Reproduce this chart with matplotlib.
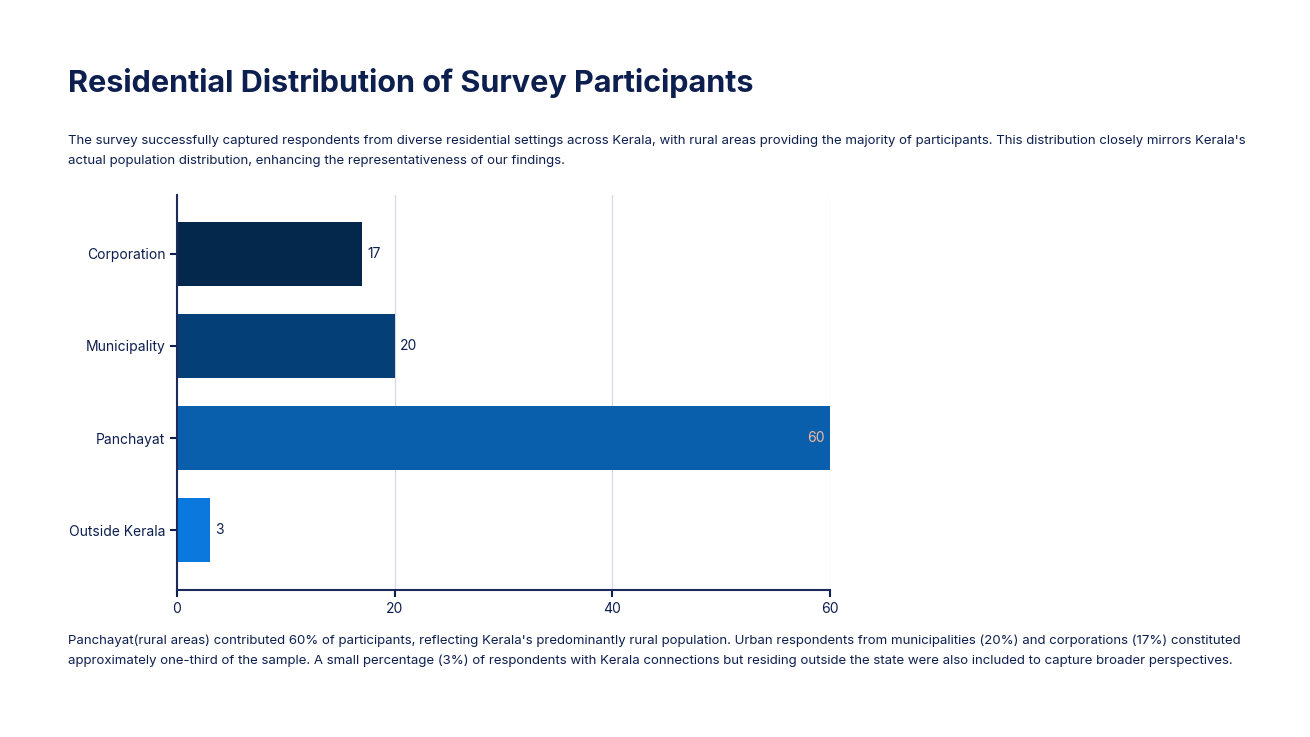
import matplotlib
matplotlib.use("Agg")
import matplotlib.pyplot as plt

categories = ["Corporation", "Municipality", "Panchayat", "Outside Kerala"]
values = [17, 20, 60, 3]
colors = ["#04284b", "#053f78", "#0a5fad", "#0b78de"]

NAVY = "#0d1f4f"
plt.rcParams['font.family'] = ['Inter', 'DejaVu Sans']

fig = plt.figure(figsize=(13.1, 7.37), dpi=100)
fig.text(0.052, 0.888, "Residential Distribution of Survey Participants",
         fontsize=22, fontweight='bold', color=NAVY, va='center')
fig.text(0.052, 0.795,
         "The survey successfully captured respondents from diverse residential settings across Kerala, with rural areas providing the majority of participants. This distribution closely mirrors Kerala's\n"
         "actual population distribution, enhancing the representativeness of our findings.",
         fontsize=9.5, color=NAVY, va='center', linespacing=1.8)
fig.text(0.052, 0.117,
         "Panchayat(rural areas) contributed 60% of participants, reflecting Kerala's predominantly rural population. Urban respondents from municipalities (20%) and corporations (17%) constituted\n"
         "approximately one-third of the sample. A small percentage (3%) of respondents with Kerala connections but residing outside the state were also included to capture broader perspectives.",
         fontsize=9.5, color=NAVY, va='center', linespacing=1.8)

ax = fig.add_axes([0.1351, 0.1995, 0.4985, 0.5359])
pos = list(range(len(categories)))
ax.barh(pos, values, height=0.7, color=colors, zorder=2)
for p, v in zip(pos, values):
    if v == max(values):
        ax.text(v - 0.5, p, str(v), ha='right', va='center', fontsize=10, color="#f4b99a")
    else:
        ax.text(v + 0.5, p, str(v), ha='left', va='center', fontsize=10, color=NAVY)

ax.set_yticks(pos)
ax.set_yticklabels(categories, fontsize=10, color=NAVY)
ax.set_xticks([0, 20, 40, 60])
ax.tick_params(axis='x', labelsize=10, colors=NAVY, length=5, width=1.5)
ax.tick_params(axis='y', colors=NAVY, length=5, width=1.5)
ax.set_xlim(0, 60)
ax.set_ylim(3.65, -0.64)
ax.grid(axis='x', color="#d5d9e3", linewidth=0.9, zorder=0)
for s in ['top', 'right']:
    ax.spines[s].set_visible(False)
for s in ['left', 'bottom']:
    ax.spines[s].set_color("#1d2a5c")
    ax.spines[s].set_linewidth(1.5)

fig.savefig("out.png", dpi=100)
